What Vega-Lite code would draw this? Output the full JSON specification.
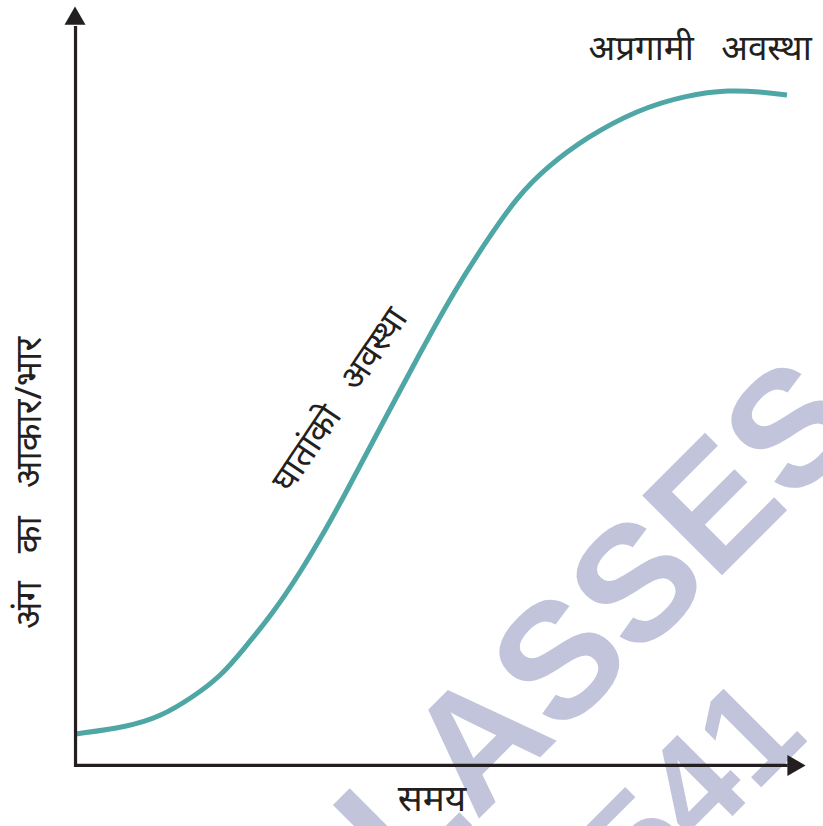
{
  "$schema": "https://vega.github.io/schema/vega-lite/v6.json",
  "width": 823,
  "height": 826,
  "padding": 0,
  "autosize": {"type": "none"},
  "background": "white",
  "config": {"view": {"stroke": null}},
  "layer": [
    {
      "data": {"values": [
        {"t": 66.4, "s": 12.9, "label": "CLASSES"}
      ]},
      "mark": {"type": "text", "font": "Liberation Sans", "fontWeight": "bold", "fontSize": 164, "angle": -45, "align": "center", "baseline": "middle", "color": "#c1c4da"},
      "encoding": {
        "x": {"field": "t", "type": "quantitative", "scale": {"domain": [-10.34, 102.33], "nice": false, "zero": false}, "axis": null},
        "y": {"field": "s", "type": "quantitative", "scale": {"domain": [-7.98, 100.92], "nice": false, "zero": false}, "axis": null},
        "text": {"field": "label"}
      }
    },
    {
      "data": {"values": [
        {"t": 85.2, "s": -3.4, "label": "541"}
      ]},
      "mark": {"type": "text", "font": "Liberation Sans", "fontWeight": "bold", "fontSize": 140, "angle": -45, "align": "center", "baseline": "middle", "color": "#c1c4da"},
      "encoding": {
        "x": {"field": "t", "type": "quantitative"},
        "y": {"field": "s", "type": "quantitative"},
        "text": {"field": "label"}
      }
    },
    {
      "data": {"values": [
        {"t": 0, "s": 4.15},
        {"t": 7.05, "s": 5.08},
        {"t": 11.57, "s": 6.39},
        {"t": 16.08, "s": 9.03},
        {"t": 19.78, "s": 11.67},
        {"t": 22.93, "s": 15.23},
        {"t": 27.04, "s": 20.11},
        {"t": 30.73, "s": 25.38},
        {"t": 34.43, "s": 31.44},
        {"t": 36.48, "s": 35.0},
        {"t": 41.68, "s": 44.49},
        {"t": 47.16, "s": 54.38},
        {"t": 51.68, "s": 62.29},
        {"t": 56.33, "s": 69.28},
        {"t": 60.44, "s": 74.95},
        {"t": 64.54, "s": 78.91},
        {"t": 70.02, "s": 82.86},
        {"t": 76.86, "s": 86.42},
        {"t": 83.71, "s": 88.4},
        {"t": 89.6, "s": 89.06},
        {"t": 93.7, "s": 88.8},
        {"t": 97.4, "s": 88.4}
      ]},
      "mark": {"type": "line", "interpolate": "basis", "strokeWidth": 5, "color": "#4fa7a5"},
      "encoding": {
        "x": {"field": "t", "type": "quantitative"},
        "y": {"field": "s", "type": "quantitative"}
      }
    },
    {
      "data": {"values": [
        {"t": 0, "t2": 0, "s": -0.2, "s2": 97.5},
        {"t": -0.2, "t2": 97.5, "s": 0, "s2": 0}
      ]},
      "mark": {"type": "rule", "strokeWidth": 3.2, "color": "#231f20"},
      "encoding": {
        "x": {"field": "t", "type": "quantitative"},
        "x2": {"field": "t2"},
        "y": {"field": "s", "type": "quantitative"},
        "y2": {"field": "s2"}
      }
    },
    {
      "data": {"values": [
        {"t": -0.07, "s": 98.85, "dir": "up"},
        {"t": 98.7, "s": 0, "dir": "right"}
      ]},
      "mark": {"type": "point", "filled": true, "opacity": 1, "color": "#231f20", "size": 440},
      "encoding": {
        "x": {"field": "t", "type": "quantitative"},
        "y": {"field": "s", "type": "quantitative"},
        "shape": {"field": "dir", "type": "nominal", "scale": {"domain": ["up", "right"], "range": ["triangle-up", "triangle-right"]}, "legend": null}
      }
    },
    {
      "data": {"values": [
        {"t": 85.5, "s": 94.4, "label": "अप्रगामी\u00a0\u00a0\u00a0अवस्था", "rot": 0, "fs": 35},
        {"t": 48.8, "s": -4.55, "label": "समय", "rot": 0, "fs": 37},
        {"t": -6.23, "s": 37.25, "label": "अंग\u00a0\u00a0\u00a0का\u00a0\u00a0\u00a0आकार/भार", "rot": -90, "fs": 36},
        {"t": 36.2, "s": 48.2, "label": "घातांको\u00a0\u00a0\u00a0अवस्था", "rot": -56, "fs": 35}
      ]},
      "mark": {"type": "text", "font": "Noto Sans", "align": "center", "baseline": "middle", "color": "#231f20"},
      "encoding": {
        "x": {"field": "t", "type": "quantitative"},
        "y": {"field": "s", "type": "quantitative"},
        "text": {"field": "label"},
        "angle": {"field": "rot", "type": "quantitative", "scale": null},
        "size": {"field": "fs", "type": "quantitative", "scale": null}
      }
    }
  ]
}
